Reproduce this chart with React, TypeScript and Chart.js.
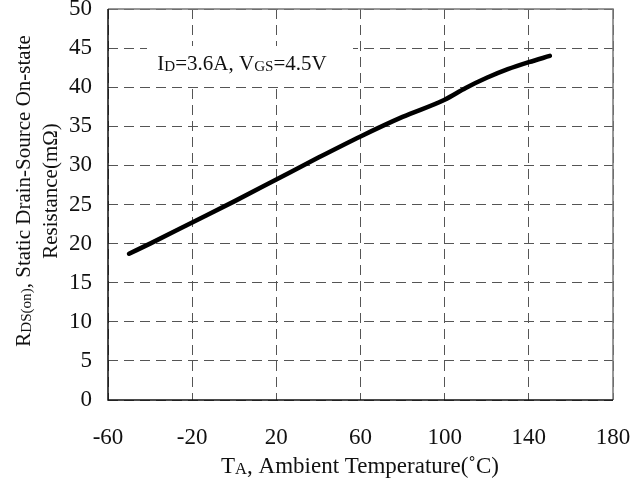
import React, { useEffect, useRef } from "react";
import { Chart, registerables } from "chart.js";
Chart.register(...registerables);

const temperatures = [-50, -40, -20, 0, 20, 40, 60, 80, 100, 110, 120, 130, 140, 150];
const resistance = [18.7, 20.0, 22.7, 25.4, 28.2, 31.0, 33.7, 36.2, 38.4, 39.9, 41.2, 42.3, 43.2, 44.0];
const xRange = [-60, 180];
const xStep = 40;
const yRange = [0, 50];
const yStep = 5;

const FONT = "'Liberation Serif', 'Times New Roman', serif";

type Part = { t: string; s?: boolean };

function richWidth(ctx: CanvasRenderingContext2D, parts: Part[], size: number) {
  let w = 0;
  for (const p of parts) {
    ctx.font = `${p.s ? size * 0.72 : size}px ${FONT}`;
    w += ctx.measureText(p.t).width;
  }
  return w;
}

function drawRich(ctx: CanvasRenderingContext2D, parts: Part[], cx: number, by: number, size: number) {
  const w = richWidth(ctx, parts, size);
  let x = cx - w / 2;
  ctx.textAlign = "left";
  ctx.textBaseline = "alphabetic";
  ctx.fillStyle = "#111";
  for (const p of parts) {
    ctx.font = `${p.s ? size * 0.72 : size}px ${FONT}`;
    ctx.fillText(p.t, x, by + (p.s ? 1 : 0));
    x += ctx.measureText(p.t).width;
  }
}

const decorPlugin = {
  id: "decor",
  beforeDatasetsDraw(chart: any) {
    const ctx = chart.ctx as CanvasRenderingContext2D;
    ctx.save();
    ctx.fillStyle = "#fff";
    ctx.fillRect(147, 46, 206, 39);
    drawRich(
      ctx,
      [{ t: "I" }, { t: "D", s: true }, { t: "=3.6A, V" }, { t: "GS", s: true }, { t: "=4.5V" }],
      242,
      70,
      21
    );
    ctx.restore();
  },
  afterDraw(chart: any) {
    const ctx = chart.ctx as CanvasRenderingContext2D;
    const a = chart.chartArea;
    ctx.save();
    ctx.lineWidth = 1.5;
    ctx.strokeStyle = "#777";
    ctx.beginPath();
    ctx.moveTo(a.left, a.top);
    ctx.lineTo(a.right, a.top);
    ctx.lineTo(a.right, a.bottom);
    ctx.stroke();
    ctx.strokeStyle = "#111";
    ctx.beginPath();
    ctx.moveTo(a.left, a.top);
    ctx.lineTo(a.left, a.bottom);
    ctx.lineTo(a.right, a.bottom);
    ctx.stroke();

    // x title
    drawRich(
      ctx,
      [{ t: "T" }, { t: "A", s: true }, { t: ", Ambient Temperature(\u02DAC)" }],
      360,
      473,
      23
    );
    // y title
    ctx.translate(0, 191);
    ctx.rotate(-Math.PI / 2);
    drawRich(
      ctx,
      [{ t: "R" }, { t: "DS(on)", s: true }, { t: ", Static Drain-Source On-state" }],
      0,
      30,
      21
    );
    drawRich(ctx, [{ t: "Resistance(m\u03A9)" }], 0, 57, 21);
    ctx.restore();
  },
};

export default function App() {
  const ref = useRef<HTMLCanvasElement | null>(null);
  useEffect(() => {
    if (!ref.current) return;
    const chart = new Chart(ref.current, {
      type: "line",
      data: {
        datasets: [
          {
            data: temperatures.map((t, i) => ({ x: t, y: resistance[i] })),
            borderColor: "#000",
            borderWidth: 4.5,
            borderCapStyle: "round",
            borderJoinStyle: "round",
            pointRadius: 0,
            cubicInterpolationMode: "monotone",
            fill: false,
          },
        ],
      },
      plugins: [decorPlugin],
      options: {
        animation: false,
        responsive: false,
        maintainAspectRatio: false,
        layout: { padding: { left: 0, top: 9, right: 30, bottom: 0 } },
        plugins: { legend: { display: false }, tooltip: { enabled: false }, title: { display: false } },
        scales: {
          x: {
            type: "linear",
            min: xRange[0],
            max: xRange[1],
            ticks: { stepSize: xStep, color: "#111", font: { family: FONT, size: 23 }, padding: 24, maxRotation: 0 },
            grid: { color: "#555", lineWidth: 1, drawTicks: false },
            border: { display: false, dash: [10, 6] },
            afterFit: (s: any) => {
              s.height = 79;
              s.paddingLeft = 0;
              s.paddingRight = 0;
            },
          },
          y: {
            type: "linear",
            min: yRange[0],
            max: yRange[1],
            ticks: { stepSize: yStep, color: "#111", font: { family: FONT, size: 23 }, padding: 16 },
            grid: { color: "#555", lineWidth: 1, drawTicks: false },
            border: { display: false, dash: [10, 6] },
            afterFit: (s: any) => {
              s.width = 108;
              s.paddingTop = 0;
              s.paddingBottom = 0;
            },
          },
        },
      },
    } as any);
    return () => chart.destroy();
  }, []);
  return (
    <div style={{ position: "fixed", left: 0, top: 0, width: 643, height: 479, background: "#fff" }}>
      <canvas ref={ref} width={643} height={479} style={{ width: 643, height: 479 }} />
    </div>
  );
}
